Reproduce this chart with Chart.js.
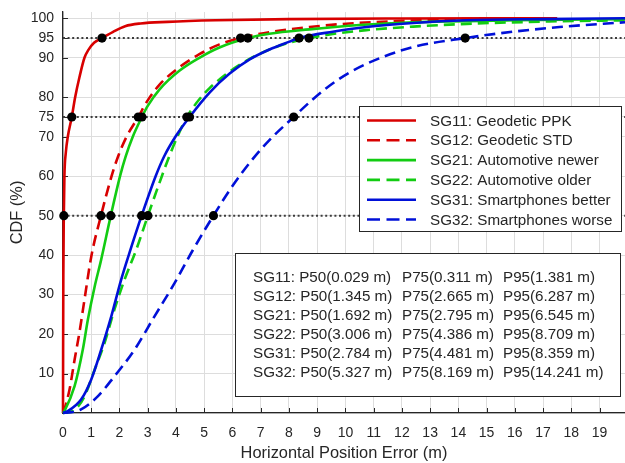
<!DOCTYPE html>
<html>
<head>
<meta charset="utf-8">
<script src="https://cdn.jsdelivr.net/npm/chart.js@4.4.0/dist/chart.umd.min.js"></script>
<style>
  html, body { margin: 0; padding: 0; background: #fff; }
</style>
</head>
<body>
<canvas id="cdfChart" width="625" height="463"></canvas>
<script>
// series labels (legend order)
const seriesLabels = [
    'SG11: Geodetic PPK',
    'SG12: Geodetic STD',
    'SG21: Automotive newer',
    'SG22: Automotive older',
    'SG31: Smartphones better',
    'SG32: Smartphones worse',
];

// CDF curves, error in m / cumulative %
const sg11X = [0, 0.004, 0.012, 0.029, 0.05, 0.1, 0.17, 0.311, 0.43, 0.58, 0.76, 0.9, 1.1, 1.381, 1.76, 2.2, 2.75, 3.7, 5.4, 8, 12, 17.5];
const sg11Y = [0, 15, 35, 50, 60, 66, 70, 75, 80, 85, 90, 92, 93.8, 95, 96.5, 98, 98.7, 99.1, 99.5, 99.8, 99.95, 100];

const sg12X = [0, 0.05, 0.23, 0.41, 0.58, 0.76, 1.0, 1.345, 1.72, 1.95, 2.25, 2.665, 3.0, 3.42, 4.12, 4.83, 5.54, 6.287, 7.31, 8.73, 10.15, 11.9, 13.5, 15];
const sg12Y = [0, 0.9, 5.9, 13.5, 20.3, 28.7, 39.6, 50, 60, 65, 70, 75, 79.2, 83.2, 87.6, 90.9, 93.4, 95, 96.5, 97.8, 98.7, 99.3, 99.7, 99.9];

const sg21X = [0, 0.05, 0.41, 0.7, 0.88, 1.12, 1.35, 1.692, 2.02, 2.22, 2.47, 2.795, 3.0, 3.42, 4.12, 4.83, 5.54, 6.545, 7.31, 8.73, 10.5, 12.4, 16, 19.9];
const sg21Y = [0, 0.5, 6.8, 16, 23.6, 32, 38.8, 50, 60, 65, 70, 75, 77.8, 82, 86.7, 90, 92.6, 95, 96.1, 97.2, 98.3, 99, 99.5, 99.8];

const sg22X = [0, 0.41, 0.76, 1.12, 1.47, 1.82, 2.18, 2.6, 3.006, 3.5, 3.76, 4.05, 4.386, 4.83, 5.19, 5.9, 6.61, 7.31, 8.0, 8.709, 9.44, 10.74, 12.4, 14.3, 17.2, 19.9];
const sg22Y = [0, 0.8, 4.2, 11, 17.7, 26.2, 33.8, 41.5, 50, 60, 65, 70, 75, 79.5, 82.3, 86.5, 89.7, 92.1, 93.8, 95, 95.9, 97, 97.9, 98.6, 99.2, 99.5];

const sg31X = [0, 0.17, 0.64, 1.0, 1.35, 1.71, 2.06, 2.35, 2.784, 3.28, 3.58, 3.98, 4.481, 5.19, 5.9, 6.61, 7.31, 8.02, 8.359, 9.55, 10.74, 12.4, 14.3, 17, 19.9];
const sg31Y = [0, 0.5, 3.4, 8.5, 16, 24.5, 33.8, 40.5, 50, 60, 65, 70, 75, 81.2, 86, 89.6, 92.1, 94.1, 95, 96.6, 97.8, 98.8, 99.5, 99.8, 100];

const sg32X = [0, 0.3, 0.64, 1.23, 1.82, 2.53, 3.24, 3.95, 4.6, 5.327, 6.0, 6.7, 7.4, 8.169, 8.85, 9.32, 10.15, 11.32, 12.5, 14.241, 15.46, 17.58, 19.9];
const sg32Y = [0, 0.2, 0.9, 4.2, 9.3, 16, 24.5, 32.9, 41.3, 50, 57.5, 64.2, 69.8, 75, 79.5, 82.3, 86.3, 90.2, 92.9, 95, 96.2, 97.8, 99];

// percentiles (m) per series, same order as labels
const p50 = [0.029, 1.345, 1.692, 3.006, 2.784, 5.327];
const p75 = [0.311, 2.665, 2.795, 4.386, 4.481, 8.169];
const p95 = [1.381, 6.287, 6.545, 8.709, 8.359, 14.241];
const levels = [50, 75, 95];

// axes
const xTickValues = [0, 1, 2, 3, 4, 5, 6, 7, 8, 9, 10, 11, 12, 13, 14, 15, 16, 17, 18, 19];
const yTickValues = [0, 10, 20, 30, 40, 50, 60, 70, 75, 80, 90, 95, 100];
const xMin = 0, xMax = 19.9;
const yMin = 0, yMax = 101.6;

const seriesX = [sg11X, sg12X, sg21X, sg22X, sg31X, sg32X];
const seriesY = [sg11Y, sg12Y, sg21Y, sg22Y, sg31Y, sg32Y];

// styles
const RED = '#d80000', GREEN = '#12cc12', BLUE = '#0010d8';
const seriesColors = [RED, RED, GREEN, GREEN, BLUE, BLUE];
const DASH = [11, 6];
const seriesDash = [[], DASH, [], DASH, [], DASH];
const FONT = '"Liberation Sans", Arial, Helvetica, sans-serif';
const TEXT = '#262626';

function pairs(xs, ys) {
    return xs.map((x, i) => ({ x: x, y: ys[i] }));
}

const datasets = [];

// percentile markers on top
const markers = [];
p50.forEach((v, i) => {
    markers.push({ x: p50[i], y: levels[0] }, { x: p75[i], y: levels[1] }, { x: p95[i], y: levels[2] });
});
datasets.push({
    label: 'markers',
    data: markers,
    showLine: false,
    pointRadius: 4.6,
    pointBackgroundColor: '#000',
    pointBorderWidth: 0,
    clip: false,
    order: 0,
});

seriesLabels.forEach((lab, i) => {
    datasets.push({
        label: lab,
        data: pairs(seriesX[i], seriesY[i]),
        borderColor: seriesColors[i],
        borderWidth: 2.6,
        borderDash: seriesDash[i],
        pointRadius: 0,
        cubicInterpolationMode: 'monotone',
        clip: 4,
        order: 1 + (seriesLabels.length - i),
    });
});

// dotted reference levels
levels.forEach((lv) => {
    datasets.push({
        label: 'level' + lv,
        data: [{ x: xMin, y: lv }, { x: xMax, y: lv }],
        borderColor: '#3c3c3c',
        borderWidth: 2,
        borderDash: [2, 2.6],
        pointRadius: 0,
        order: 20,
    });
});

// ticks drawn inward like the original
const inwardTicks = {
    id: 'inwardTicks',
    beforeDatasetsDraw(chart) {
        const { ctx, chartArea: a, scales } = chart;
        ctx.save();
        ctx.strokeStyle = TEXT;
        ctx.lineWidth = 1;
        ctx.beginPath();
        scales.x.ticks.forEach((t) => {
            const px = Math.round(scales.x.getPixelForValue(t.value)) + 0.5;
            ctx.moveTo(px, a.bottom);
            ctx.lineTo(px, a.bottom - 5);
        });
        scales.y.ticks.forEach((t) => {
            const py = Math.round(scales.y.getPixelForValue(t.value)) + 0.5;
            ctx.moveTo(a.left, py);
            ctx.lineTo(a.left + 5, py);
        });
        ctx.stroke();
        ctx.restore();
    },
};

// legend box + percentile summary box
const boxes = {
    id: 'boxes',
    afterDraw(chart) {
        const ctx = chart.ctx;
        ctx.save();
        ctx.font = '15.2px ' + FONT;
        ctx.textBaseline = 'middle';
        ctx.textAlign = 'left';

        // legend
        ctx.fillStyle = '#fff';
        ctx.fillRect(359.5, 106.5, 262, 125);
        ctx.strokeStyle = TEXT;
        ctx.lineWidth = 1;
        ctx.strokeRect(359.5, 106.5, 262, 125);
        seriesLabels.forEach((lab, i) => {
            const yy = 120.5 + i * 19.8;
            ctx.save();
            ctx.strokeStyle = seriesColors[i];
            ctx.lineWidth = 2.6;
            ctx.setLineDash(seriesDash[i].length ? [13, 6.5] : []);
            ctx.beginPath();
            ctx.moveTo(367, yy);
            ctx.lineTo(416, yy);
            ctx.stroke();
            ctx.restore();
            ctx.fillStyle = TEXT;
            ctx.fillText(lab, 430, yy + 1);
        });

        // summary
        ctx.fillStyle = '#fff';
        ctx.fillRect(235.5, 253.5, 385, 143);
        ctx.strokeStyle = TEXT;
        ctx.strokeRect(235.5, 253.5, 385, 143);
        ctx.fillStyle = TEXT;
        seriesLabels.forEach((lab, i) => {
            const yy = 277.5 + i * 19.1;
            const id = lab.split(':')[0];
            ctx.fillText(id + ': P50(' + p50[i].toFixed(3) + ' m)', 253, yy);
            ctx.fillText('P75(' + p75[i].toFixed(3) + ' m)', 402, yy);
            ctx.fillText('P95(' + p95[i].toFixed(3) + ' m)', 503, yy);
        });
        ctx.restore();
    },
};

// keep the plot area exactly where the original has it
function noScalePadding(scale) {
    scale.paddingTop = 0;
    scale.paddingBottom = 0;
    scale.paddingLeft = 0;
    scale.paddingRight = 0;
}

const ctx = document.getElementById('cdfChart').getContext('2d');
new Chart(ctx, {
    type: 'line',
    data: { datasets: datasets },
    plugins: [inwardTicks, boxes],
    options: {
        responsive: false,
        animation: false,
        devicePixelRatio: 1,
        layout: { autoPadding: false, padding: { top: 12, right: 0, left: 0, bottom: 0 } },
        plugins: {
            legend: { display: false },
            tooltip: { enabled: false },
        },
        scales: {
            x: {
                type: 'linear',
                min: xMin,
                max: xMax,
                afterBuildTicks: (scale) => {
                    scale.ticks = xTickValues.map((v) => ({ value: v }));
                },
                afterFit: (scale) => {
                    scale.height = 50;
                    noScalePadding(scale);
                },
                grid: { color: '#dddddd', lineWidth: 1, drawTicks: false },
                border: { color: TEXT, width: 1.3 },
                ticks: {
                    color: TEXT,
                    font: { family: FONT, size: 14 },
                    padding: 12,
                    maxRotation: 0,
                    autoSkip: false,
                },
                title: {
                    display: true,
                    text: 'Horizontal Position Error (m)',
                    color: TEXT,
                    font: { family: FONT, size: 16.4 },
                    padding: { top: 0, bottom: 0 },
                },
            },
            y: {
                type: 'linear',
                min: yMin,
                max: yMax,
                afterBuildTicks: (scale) => {
                    scale.ticks = yTickValues.map((v) => ({ value: v }));
                },
                afterFit: (scale) => {
                    scale.width = 63;
                    noScalePadding(scale);
                },
                grid: { color: '#dddddd', lineWidth: 1, drawTicks: false },
                border: { color: TEXT, width: 1.3 },
                ticks: {
                    color: TEXT,
                    font: { family: FONT, size: 14 },
                    padding: 9,
                    autoSkip: false,
                    callback: (value) => (value === 0 ? '' : value),
                },
                title: {
                    display: true,
                    text: 'CDF (%)',
                    color: TEXT,
                    font: { family: FONT, size: 16.4 },
                    padding: { top: 8, bottom: 0 },
                },
            },
        },
    },
});
</script>
</body>
</html>
